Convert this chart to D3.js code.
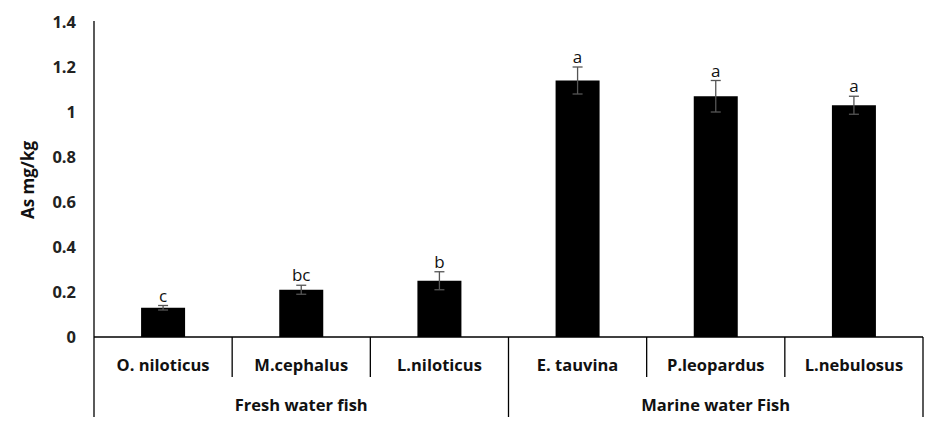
<!DOCTYPE html>
<html>
<head>
<meta charset="utf-8">
<script src="https://cdn.jsdelivr.net/npm/d3@7"></script>
<style>
  body { margin: 0; background: #fff; }
  text { font-family: "Open Sans", "Noto Sans", sans-serif; }
</style>
</head>
<body>
<svg id="chart" width="935" height="426"></svg>
<script>
// species, grouped by water type
const species = ['O. niloticus', 'M.cephalus', 'L.niloticus', 'E. tauvina', 'P.leopardus', 'L.nebulosus'];
const groups = ['Fresh water fish', 'Fresh water fish', 'Fresh water fish', 'Marine water Fish', 'Marine water Fish', 'Marine water Fish'];
const asValues = [0.13, 0.21, 0.25, 1.14, 1.07, 1.03];
const asErrors = [0.01, 0.02, 0.04, 0.06, 0.07, 0.04];
const letters = ['c', 'bc', 'b', 'a', 'a', 'a'];
const yTicks = [0, 0.2, 0.4, 0.6, 0.8, 1, 1.2, 1.4];

const svg = d3.select('#chart');
const plotLeft = 94, plotRight = 923, plotTop = 22, plotBottom = 337;

const x = d3.scaleBand()
  .domain(species)
  .range([plotLeft, plotRight])
  .paddingInner(0)
  .paddingOuter(0);

const y = d3.scaleLinear()
  .domain([0, 1.4])
  .range([plotBottom, plotTop]);

// y axis
const yAxis = svg.append('g')
  .attr('transform', `translate(${plotLeft},0)`)
  .call(d3.axisLeft(y).tickValues(yTicks).tickSize(0).tickPadding(18).tickFormat(d => d3.format('')(d)));
yAxis.select('.domain').remove();
yAxis.selectAll('text')
  .attr('font-size', 16.5)
  .attr('font-weight', 'bold')
  .attr('fill', '#222');

// vertical axis line runs down to the bottom of the group labels
svg.append('line')
  .attr('x1', plotLeft).attr('x2', plotLeft)
  .attr('y1', plotTop - 1).attr('y2', 417)
  .attr('stroke', '#000').attr('stroke-width', 1.3);

// baseline
svg.append('line')
  .attr('x1', plotLeft).attr('x2', plotRight)
  .attr('y1', plotBottom).attr('y2', plotBottom)
  .attr('stroke', '#000').attr('stroke-width', 1.3);

// bars
const barW = 44;
svg.selectAll('rect.bar')
  .data(species)
  .enter().append('rect')
  .attr('class', 'bar')
  .attr('x', d => x(d) + x.bandwidth() / 2 - barW / 2)
  .attr('y', (d, i) => y(asValues[i]))
  .attr('width', barW)
  .attr('height', (d, i) => plotBottom - y(asValues[i]))
  .attr('fill', '#000');

// error bars
const err = svg.selectAll('g.err')
  .data(species)
  .enter().append('g')
  .attr('class', 'err')
  .attr('stroke', '#555')
  .attr('stroke-width', 1.3);
err.append('line')
  .attr('x1', d => x(d) + x.bandwidth() / 2)
  .attr('x2', d => x(d) + x.bandwidth() / 2)
  .attr('y1', (d, i) => y(asValues[i] + asErrors[i]))
  .attr('y2', (d, i) => y(asValues[i] - asErrors[i]));
[1, -1].forEach(s => {
  err.append('line')
    .attr('x1', d => x(d) + x.bandwidth() / 2 - 5)
    .attr('x2', d => x(d) + x.bandwidth() / 2 + 5)
    .attr('y1', (d, i) => y(asValues[i] + s * asErrors[i]))
    .attr('y2', (d, i) => y(asValues[i] + s * asErrors[i]));
});

// significance letters
svg.selectAll('text.letter')
  .data(species)
  .enter().append('text')
  .attr('class', 'letter')
  .attr('x', d => x(d) + x.bandwidth() / 2)
  .attr('y', (d, i) => y(asValues[i] + asErrors[i]) - 4)
  .attr('text-anchor', 'middle')
  .attr('font-size', 17)
  .attr('fill', '#111')
  .text((d, i) => letters[i]);

// category labels and separators
svg.selectAll('text.cat')
  .data(species)
  .enter().append('text')
  .attr('class', 'cat')
  .attr('x', d => x(d) + x.bandwidth() / 2)
  .attr('y', 371)
  .attr('text-anchor', 'middle')
  .attr('font-size', 16.5)
  .attr('font-weight', 'bold')
  .attr('fill', '#111')
  .text(d => d);

species.slice(1).forEach((d, i) => {
  const isGroupEdge = groups[i + 1] !== groups[i];
  svg.append('line')
    .attr('x1', x(d)).attr('x2', x(d))
    .attr('y1', plotBottom).attr('y2', isGroupEdge ? 417 : 377)
    .attr('stroke', '#000').attr('stroke-width', 1.3);
});
svg.append('line')
  .attr('x1', plotRight).attr('x2', plotRight)
  .attr('y1', plotBottom).attr('y2', 417)
  .attr('stroke', '#000').attr('stroke-width', 1.3);

// group labels
const groupNames = Array.from(new Set(groups));
svg.selectAll('text.grp')
  .data(groupNames)
  .enter().append('text')
  .attr('class', 'grp')
  .attr('x', g => {
    const members = species.filter((d, i) => groups[i] === g);
    return (x(members[0]) + x(members[members.length - 1]) + x.bandwidth()) / 2;
  })
  .attr('y', 411)
  .attr('text-anchor', 'middle')
  .attr('font-size', 16.5)
  .attr('font-weight', 'bold')
  .attr('fill', '#111')
  .text(g => g);

// y axis title
svg.append('text')
  .attr('transform', 'translate(34,180) rotate(-90)')
  .attr('text-anchor', 'middle')
  .attr('font-size', 17)
  .attr('font-weight', 'bold')
  .attr('fill', '#111')
  .text('As mg/kg');
</script>
</body>
</html>
